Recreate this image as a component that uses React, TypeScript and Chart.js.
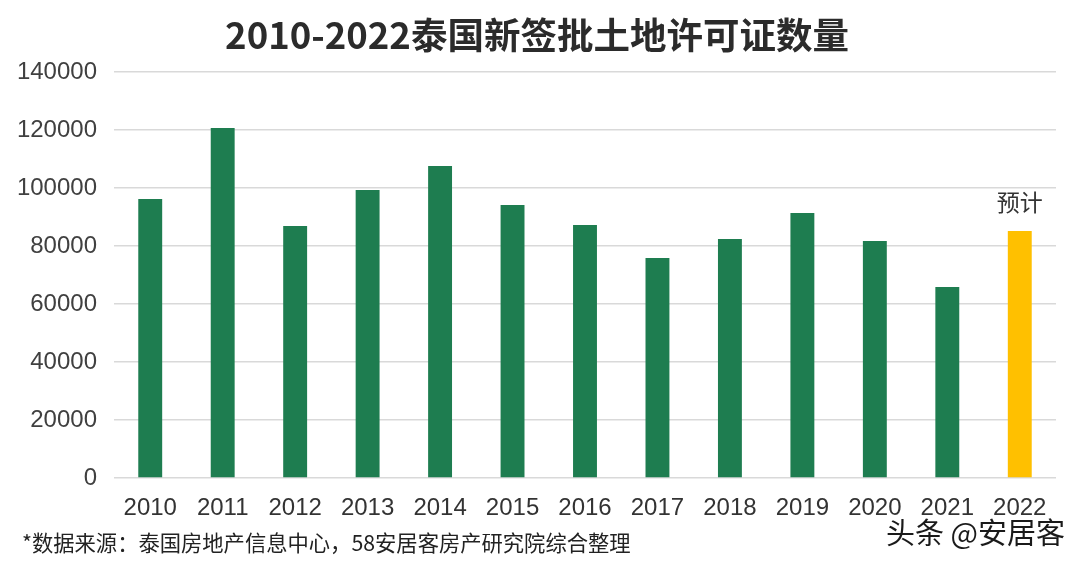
import React, { useEffect, useRef } from "react";
import { Chart, registerables } from "chart.js";

Chart.register(...registerables);

const TITLE = "2010-2022泰国新签批土地许可证数量";
const SOURCE = "*数据来源：泰国房地产信息中心，58安居客房产研究院综合整理";
const BRAND = "头条 @安居客";
const FORECAST_LABEL = "预计";

const years = ["2010", "2011", "2012", "2013", "2014", "2015", "2016", "2017", "2018", "2019", "2020", "2021", "2022"];
const permits = [96200, 120700, 86900, 99300, 107600, 94100, 87200, 75900, 82400, 91400, 81700, 65900, 85200];
const forecastIndex = 12;
const yTicks = [0, 20000, 40000, 60000, 80000, 100000, 120000, 140000];

const GREEN = "#1e7d50";
const YELLOW = "#ffc000";
const FONT = "'Noto Sans CJK SC', 'Noto Sans', sans-serif";
const NUM_FONT = "'Liberation Sans', Arial, sans-serif";

const overlayPlugin = {
  id: "overlay",
  afterDraw(chart: any) {
    const ctx = chart.ctx;
    ctx.save();
    // title
    ctx.fillStyle = "#2b2b2b";
    ctx.font = `bold 36.5px ${FONT}`;
    ctx.textAlign = "center";
    ctx.textBaseline = "middle";
    ctx.fillText(TITLE, 537, 35);
    // forecast label
    const meta = chart.getDatasetMeta(0);
    const bar = meta.data[forecastIndex];
    ctx.font = `23px ${FONT}`;
    ctx.fillStyle = "#333333";
    ctx.fillText(FORECAST_LABEL, bar.x, bar.y - 29);
    // source
    ctx.textAlign = "left";
    ctx.font = `21.3px ${FONT}`;
    ctx.fillStyle = "#222222";
    ctx.fillText(SOURCE, 22, 543);
    // brand
    ctx.textAlign = "right";
    ctx.font = `29px ${FONT}`;
    ctx.lineWidth = 3;
    ctx.strokeStyle = "#ffffff";
    ctx.strokeText(BRAND, 1065, 533);
    ctx.fillStyle = "#1a1a1a";
    ctx.fillText(BRAND, 1065, 533);
    ctx.restore();
  },
};

export default function App() {
  const ref = useRef<HTMLCanvasElement>(null);
  useEffect(() => {
    document.body.style.margin = "0";
    const chart = new Chart(ref.current!, {
      type: "bar",
      data: {
        labels: years,
        datasets: [
          {
            data: permits,
            backgroundColor: permits.map((_, i) => (i === forecastIndex ? YELLOW : GREEN)),
            barPercentage: 0.33,
            categoryPercentage: 1,
          },
        ],
      },
      options: {
        animation: false,
        responsive: false,
        maintainAspectRatio: false,
        layout: { padding: { top: 72, right: 24, left: 0, bottom: 0 } },
        plugins: { legend: { display: false }, tooltip: { enabled: false }, title: { display: false } },
        scales: {
          x: {
            grid: { display: false, drawTicks: false },
            border: { display: false },
            ticks: { color: "#333333", font: { family: NUM_FONT, size: 24 }, padding: 16, maxRotation: 0 },
            afterFit: (s: any) => {
              s.height = 85;
            },
          },
          y: {
            min: 0,
            max: 140000,
            afterBuildTicks: (s: any) => {
              s.ticks = yTicks.map((v) => ({ value: v }));
            },
            grid: { color: "#d9d9d9", lineWidth: 1.5, drawTicks: false },
            border: { display: false },
            ticks: {
              color: "#404040",
              font: { family: NUM_FONT, size: 24 },
              padding: 17,
              callback: (v: any) => String(v),
            },
            afterFit: (s: any) => {
              s.width = 114;
            },
          },
        },
      },
      plugins: [overlayPlugin],
    });
    return () => chart.destroy();
  }, []);
  return (
    <div style={{ position: "absolute", left: 0, top: 0, width: 1080, height: 563, background: "#fff" }}>
      <canvas ref={ref} width={1080} height={563} style={{ width: 1080, height: 563 }} />
    </div>
  );
}
